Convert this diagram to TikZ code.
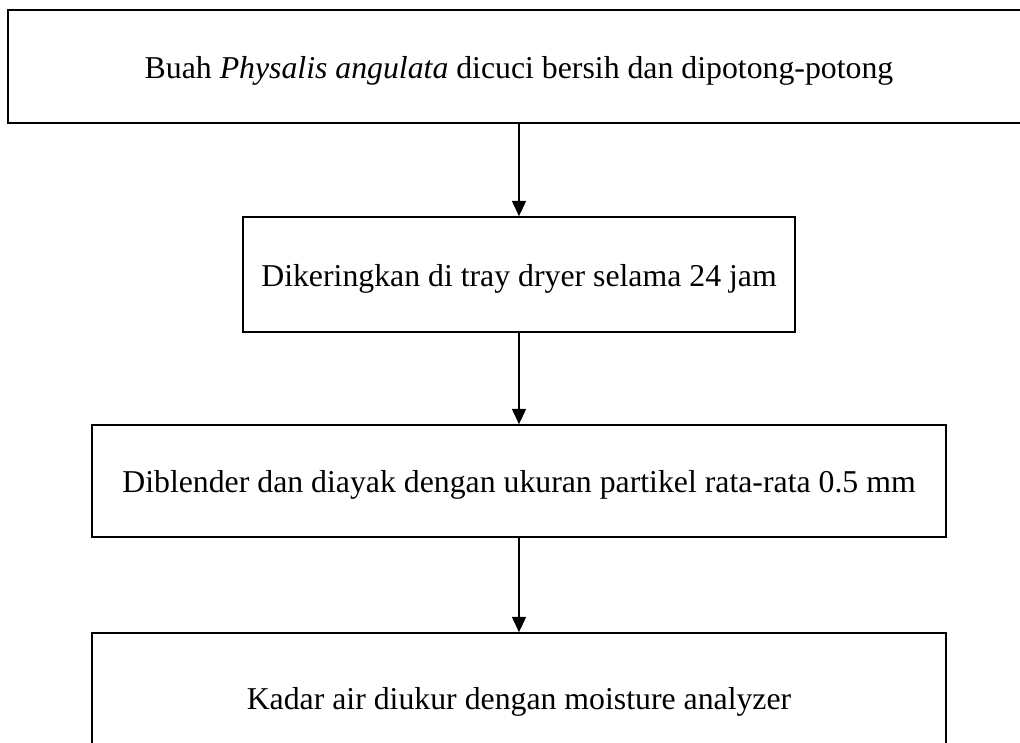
\documentclass[tikz,border=0pt]{standalone}
\usepackage{fontspec}
\setmainfont{Liberation Serif}
\usetikzlibrary{arrows.meta}

\begin{document}
\begin{tikzpicture}[x=0.025cm, y=-0.025cm,
    font=\fontsize{22.6}{27}\selectfont,
    stepbox/.style={draw, line width=1.2pt, inner sep=0pt,
      text height=16.4pt, text depth=0pt},
    flow/.style={-{Triangle[length=3.8mm, width=3.5mm]}, line width=1.2pt}]
  \useasboundingbox (0,0) rectangle (1020,743);
  \clip (0,0) rectangle (1020,743);
  % process steps
  \node[stepbox, minimum width=25.55cm, minimum height=2.825cm] (wash) at (519,66.5)
    {Buah \textit{Physalis angulata} dicuci bersih dan dipotong-potong};
  \node[stepbox, minimum width=13.8cm, minimum height=2.875cm] (dry) at (519,274.5)
    {Dikeringkan di tray dryer selama 24 jam};
  \node[stepbox, minimum width=21.35cm, minimum height=2.8cm] (blend) at (519,481)
    {Diblender dan diayak dengan ukuran partikel rata-rata 0.5 mm};
  \node[stepbox, minimum width=21.35cm, minimum height=3.25cm] (moist) at (519,698)
    {Kadar air diukur dengan moisture analyzer};
  % arrows
  \draw[flow] (wash) -- (dry);
  \draw[flow] (dry) -- (blend);
  \draw[flow] (blend) -- (moist);
\end{tikzpicture}
\end{document}
